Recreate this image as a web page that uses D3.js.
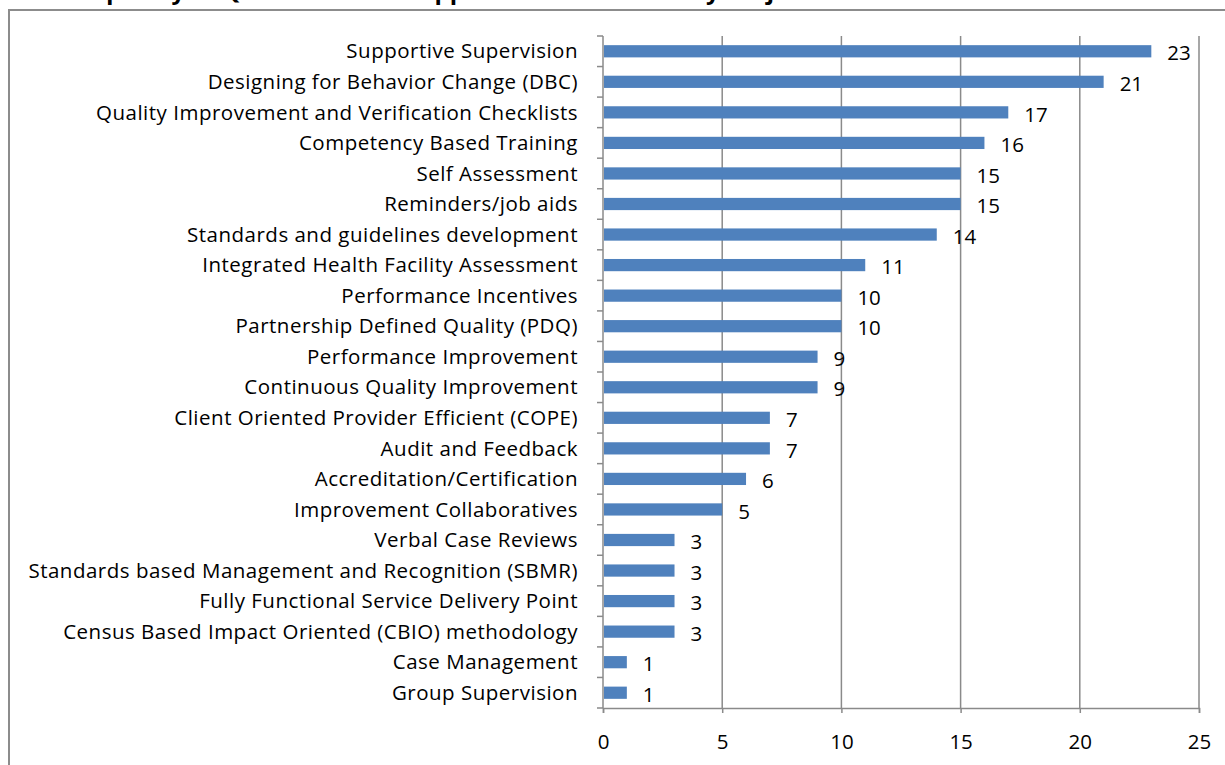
<!DOCTYPE html>
<html>
<head>
<meta charset="utf-8">
<script src="https://cdn.jsdelivr.net/npm/d3@7"></script>
<style>
  html, body { margin: 0; padding: 0; background: #fff; }
  svg { display: block; }
  text { font-family: "Open Sans", "Noto Sans", sans-serif; fill: #000; }
</style>
</head>
<body>
<div id="chart"></div>
<script>
// chart data, top to bottom
const categories = [
  "Supportive Supervision",
  "Designing for Behavior Change (DBC)",
  "Quality Improvement and Verification Checklists",
  "Competency Based Training",
  "Self Assessment",
  "Reminders/job aids",
  "Standards and guidelines development",
  "Integrated Health Facility Assessment",
  "Performance Incentives",
  "Partnership Defined Quality (PDQ)",
  "Performance Improvement",
  "Continuous Quality Improvement",
  "Client Oriented Provider Efficient (COPE)",
  "Audit and Feedback",
  "Accreditation/Certification",
  "Improvement Collaboratives",
  "Verbal Case Reviews",
  "Standards based Management and Recognition (SBMR)",
  "Fully Functional Service Delivery Point",
  "Census Based Impact Oriented (CBIO) methodology",
  "Case Management",
  "Group Supervision"
];
const counts = [23, 21, 17, 16, 15, 15, 14, 11, 10, 10, 9, 9, 7, 7, 6, 5, 3, 3, 3, 3, 1, 1];
const xTicks = [0, 5, 10, 15, 20, 25];
// title is mostly cut off at the top of the picture
const titleText = "Frequency of QI Methods and Approaches Promoted by Projects";

const width = 1225, height = 765;
const plot = { left: 603, right: 1199, top: 36, bottom: 708 };

const svg = d3.select('#chart').append('svg')
    .attr('width', width)
    .attr('height', height);

// title, only the descenders show (as in the source picture)
svg.append('text')
    .attr('x', 60)
    .attr('y', -1)
    .style('font-size', '24px')
    .style('font-weight', 'bold')
    .text(titleText);

// chart frame
svg.append('rect')
    .attr('x', 9)
    .attr('y', 10)
    .attr('width', 1240)
    .attr('height', 800)
    .attr('fill', 'none')
    .attr('stroke', '#8c8c8c')
    .attr('stroke-width', 2);

const x = d3.scaleLinear()
    .domain([0, 25])
    .range([plot.left, plot.right]);

const y = d3.scaleBand()
    .domain(categories)
    .range([plot.top, plot.bottom])
    .paddingInner(0.6)
    .paddingOuter(0.3);

// vertical gridlines
svg.append('g').selectAll('line')
    .data(xTicks.filter(d => d > 0))
    .enter()
    .append('line')
        .attr('x1', d => x(d)).attr('x2', d => x(d))
        .attr('y1', plot.top).attr('y2', plot.bottom)
        .attr('stroke', '#8a8a8a')
        .attr('stroke-width', 1.5);

// x axis
const xAxis = d3.axisBottom(x)
    .tickValues(xTicks)
    .tickSize(5)
    .tickPadding(21);

const gx = svg.append('g')
    .attr('transform', `translate(0, ${plot.bottom})`)
    .call(xAxis);
gx.select('.domain').attr('stroke', '#8a8a8a').attr('stroke-width', 1.5);
gx.selectAll('.tick line').attr('stroke', '#8a8a8a').attr('stroke-width', 1.5);
gx.selectAll('.tick text')
    .style('font-size', '20.5px')
    .style('font-family', '"Open Sans", sans-serif')
    .attr('fill', '#000');

// y axis line and ticks between categories
const offset = y.step() * y.paddingOuter();
const boundaries = categories.map(c => y(c) - offset).concat([plot.bottom]);

svg.append('line')
    .attr('x1', plot.left).attr('x2', plot.left)
    .attr('y1', plot.top).attr('y2', plot.bottom)
    .attr('stroke', '#8a8a8a')
    .attr('stroke-width', 1.5);

svg.append('g').selectAll('line')
    .data(boundaries)
    .enter()
    .append('line')
        .attr('x1', plot.left - 6).attr('x2', plot.left)
        .attr('y1', d => d).attr('y2', d => d)
        .attr('stroke', '#8a8a8a')
        .attr('stroke-width', 1.5);

// bars
svg.append('g').selectAll('rect')
    .data(counts)
    .enter()
    .append('rect')
        .attr('x', x(0) + 1)
        .attr('y', (d, i) => y(categories[i]))
        .attr('width', d => x(d) - x(0) - 1)
        .attr('height', y.bandwidth())
        .attr('fill', '#4f81bd');

// category labels
svg.append('g').selectAll('text')
    .data(categories)
    .enter()
    .append('text')
        .attr('x', 578)
        .attr('y', d => y(d) + y.bandwidth() / 2)
        .attr('dy', '0.35em')
        .attr('text-anchor', 'end')
        .style('font-size', '20.5px')
        .style('letter-spacing', '0.5px')
        .text(d => d);

// value labels
svg.append('g').selectAll('text')
    .data(counts)
    .enter()
    .append('text')
        .attr('x', d => x(d) + 16)
        .attr('y', (d, i) => y(categories[i]) + y.bandwidth() / 2 + 2)
        .attr('dy', '0.35em')
        .style('font-size', '20.5px')
        .text(d => d);
</script>
</body>
</html>
